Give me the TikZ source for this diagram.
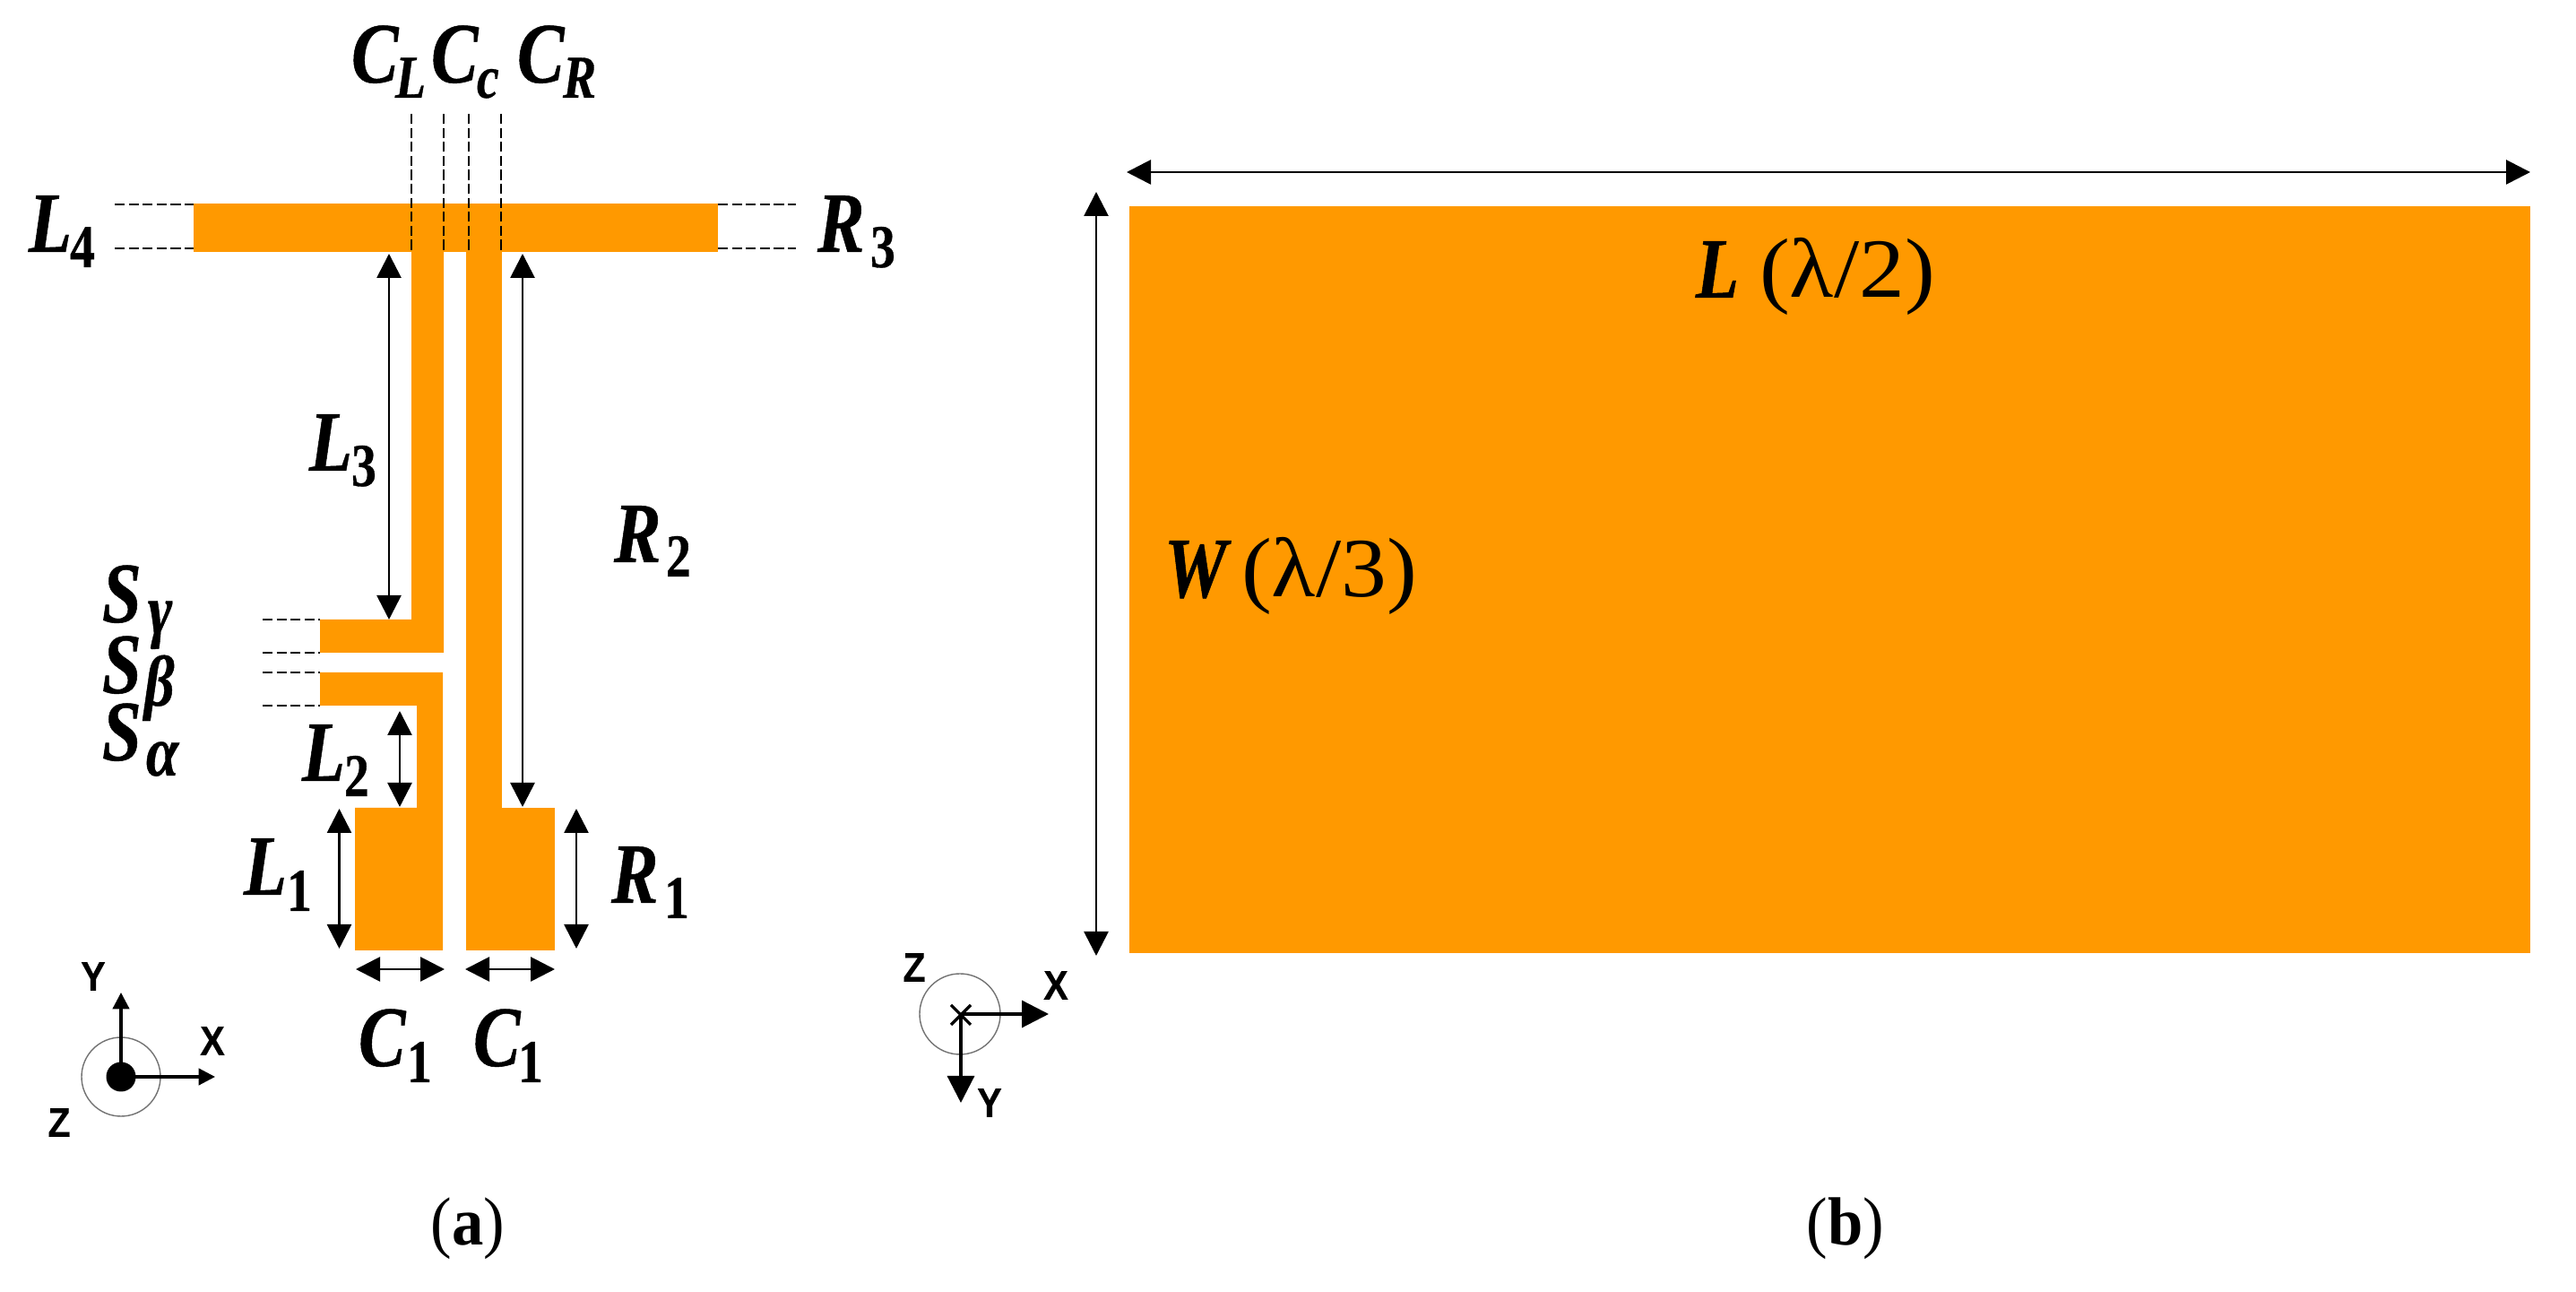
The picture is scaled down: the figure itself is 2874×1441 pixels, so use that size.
\documentclass[tikz,border=0pt]{standalone}
\usepackage{fontspec}
\usetikzlibrary{arrows.meta}
\setmainfont{Liberation Serif}
\newfontfamily\lblfont[FakeStretch=0.82,BoldFeatures={FakeBold=0.5},BoldItalicFeatures={FakeBold=0.5}]{Liberation Serif}
\newfontfamily\capfont[FakeStretch=0.93]{Liberation Serif}
\newfontfamily\parfont[FakeStretch=1.08]{Liberation Serif}
\newfontfamily\axfont[FakeStretch=0.9,BoldFeatures={FakeBold=0.3}]{Liberation Sans}
\definecolor{patch}{HTML}{FF9900}
\newcommand{\px}[1]{\dimexpr #1pt/4\relax}
% \lab{name}{x}{y}{main}{dx}{dy}{sub}: main letter on baseline (x,y), subscript placed dx,dy px away
\newcommand{\lab}[7]{\node[lbl] (#1) at (#2,#3) {\fontsize{24}{24}\selectfont\lblfont\bfseries\itshape\rlap{#4}\hspace*{\px{#5}}\raisebox{\dimexpr -#6pt/4\relax}{\fontsize{17}{17}\selectfont\lblfont\bfseries #7}};}
\newcommand{\grk}[1]{{\fontsize{20}{20}\selectfont\lblfont\bfseries\itshape #1}}
\tikzset{
  x=0.25pt,y=-0.25pt,
  lbl/.style={anchor=base west,inner sep=0pt,outer sep=0pt},
  metal/.style={fill=patch,draw=none},
  dimarrow/.style={line width=0.7pt,{Triangle[length=6.75pt,width=6.75pt]}-{Triangle[length=6.75pt,width=6.75pt]}},
  guide/.style={line width=0.7pt,dash pattern=on 2.8pt off 1.1pt},
  axisa/.style={line width=0.8pt,-{Triangle[length=4.6pt,width=4.6pt]}},
  axisb/.style={line width=0.8pt,-{Triangle[length=7.5pt,width=7.5pt]}},
  ring/.style={draw=black!55,line width=0.35pt},
  axlab/.style={inner sep=0pt,font=\fontsize{11.5}{11.5}\selectfont\axfont\bfseries},
  capt/.style={anchor=base,inner sep=0pt,font=\fontsize{19}{19}\selectfont\capfont},
  txt/.style={lbl,font=\fontsize{24}{24}\selectfont\lblfont},
}
\newcommand{\paren}[1]{{\fontsize{23.5}{23.5}\selectfont\parfont\mdseries\upshape #1}}
\begin{document}
\begin{tikzpicture}
\useasboundingbox (0,0) rectangle (2874,1441);
% --- (a) antenna ---
\fill[metal] (216,227) rectangle (801,281);
\fill[metal] (459,227) -- (495,227) -- (495,728) -- (357,728) -- (357,691) -- (459,691) -- cycle;
\fill[metal] (520,227) rectangle (560,1060);
\fill[metal] (357,750) -- (494,750) -- (494,1060) -- (396,1060) -- (396,901) -- (465,901) -- (465,787) -- (357,787) -- cycle;
\fill[metal] (520,901) rectangle (619,1060);
% guides
\foreach \gx in {459,495,523,559} \draw[guide] (\gx,127) -- (\gx,281);
\foreach \gy in {228,277} {\draw[guide] (128,\gy) -- (216,\gy); \draw[guide] (801,\gy) -- (888,\gy);}
\foreach \gy in {691,728,750,787} \draw[guide] (293,\gy) -- (357,\gy);
% dimension arrows
\draw[dimarrow] (434,283) -- (434,691);
\draw[dimarrow] (583,283) -- (583,900);
\draw[dimarrow] (446,793) -- (446,900);
\draw[dimarrow] (378.5,902) -- (378.5,1058);
\draw[dimarrow] (643,902) -- (643,1058);
\draw[dimarrow] (397,1081) -- (496,1081);
\draw[dimarrow] (519,1081) -- (619,1081);
% labels
\lab{cl}{392}{92}{C}{49}{17}{\itshape L}
\lab{cc}{481}{92}{C}{51}{17}{\itshape c}
\lab{cr}{577}{92}{C}{51}{17}{\itshape R}
\lab{lfour}{32}{281}{L}{46}{17}{\upshape 4}
\lab{rthree}{912}{281}{R}{59}{17}{\upshape 3}
\lab{lthree}{345}{525}{L}{47}{17}{\upshape 3}
\lab{rtwo}{685}{627}{R}{58}{16}{\upshape 2}
\lab{sg}{114}{694}{S}{51}{13}{\grk{γ}}
\lab{sb}{114}{773}{S}{47}{14}{\grk{β}}
\lab{sa}{114}{848}{S}{49}{17}{\grk{α}}
\lab{ltwo}{337}{871}{L}{47}{17}{\upshape 2}
\lab{lone}{272}{998}{L}{48}{18}{\upshape 1}
\lab{rone}{682}{1007}{R}{59}{17}{\upshape 1}
\lab{cone}{400}{1189}{C}{54}{18}{\upshape 1}
\lab{ctwo}{528}{1189}{C}{50}{18}{\upshape 1}
% axes (a)
\draw[ring] (135,1201) circle[radius=44];
\fill (135,1201) circle[radius=16.5];
\draw[axisa] (135,1201) -- (135,1107);
\draw[axisa] (135,1201) -- (240,1201);
\node[axlab] (ya) at (104,1089) {Y};
\node[axlab] (xa) at (237,1161) {X};
\node[axlab] (za) at (66,1252) {Z};
\node[capt] (capa) at (522,1389) {(\textbf{a})};
% --- (b) patch ---
\fill[metal] (1260,230) rectangle (2823,1063);
\draw[dimarrow] (1257,192) -- (2823,192);
\draw[dimarrow] (1223,214) -- (1223,1066);
\node[txt] (ldim) at (1892,332) {\bfseries\itshape\rlap{L}\hspace*{\px{71}}\paren{(λ/2)}};
\node[txt] (wdim) at (1299,666) {\bfseries\itshape\rlap{W}\hspace*{\px{86}}\paren{(λ/3)}};
% axes (b)
\draw[ring] (1071,1131) circle[radius=45];
\draw[line width=0.8pt] (1061,1121) -- (1083,1143) (1083,1121) -- (1061,1143);
\draw[axisb] (1072,1131) -- (1170,1131);
\draw[axisb] (1072,1131) -- (1072,1230);
\node[axlab] (zb) at (1020,1079) {Z};
\node[axlab] (xb) at (1178,1099) {X};
\node[axlab] (yb) at (1104,1230) {Y};
\node[capt] (capb) at (2059,1389) {(\textbf{b})};
\end{tikzpicture}
\end{document}
